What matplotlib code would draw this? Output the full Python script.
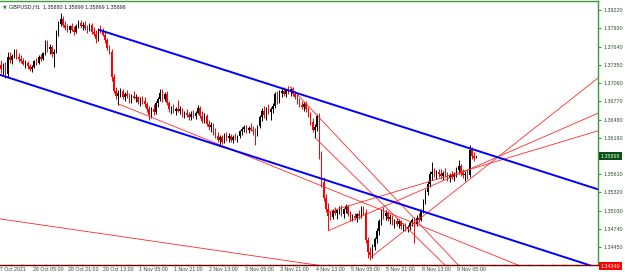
import numpy as np
import matplotlib
matplotlib.use('Agg')
import matplotlib.pyplot as plt
from matplotlib.transforms import blended_transform_factory, offset_copy

plt.rcParams['font.family'] = ['Liberation Sans', 'DejaVu Sans']

# GBPUSD H1, bar 0 = 27 Oct 14:00
bar_open = [
    1.3735, 1.3728, 1.3735, 1.3720, 1.3748, 1.3742, 1.3749, 1.3756, 1.3747, 1.3744,
    1.3741, 1.3737, 1.3738, 1.3733, 1.3728, 1.3732, 1.3741, 1.3738, 1.3747, 1.3744,
    1.3753, 1.3770, 1.3760, 1.3764, 1.3752, 1.3756, 1.3786, 1.3800, 1.3808, 1.3798,
    1.3794, 1.3790, 1.3796, 1.3791, 1.3787, 1.3797, 1.3802, 1.3797, 1.3799, 1.3794,
    1.3792, 1.3798, 1.3787, 1.3784, 1.3776, 1.3790, 1.3788, 1.3783, 1.3774, 1.3762,
    1.3756, 1.3716, 1.3694, 1.3686, 1.3690, 1.3693, 1.3684, 1.3689, 1.3685, 1.3679,
    1.3686, 1.3682, 1.3684, 1.3676, 1.3680, 1.3677, 1.3672, 1.3664, 1.3655, 1.3665,
    1.3660, 1.3675, 1.3681, 1.3690, 1.3680, 1.3688, 1.3674, 1.3664, 1.3667, 1.3661,
    1.3665, 1.3662, 1.3664, 1.3656, 1.3658, 1.3655, 1.3652, 1.3657, 1.3654, 1.3659,
    1.3667, 1.3653, 1.3646, 1.3654, 1.3641, 1.3636, 1.3639, 1.3627, 1.3622, 1.3616,
    1.3620, 1.3613, 1.3623, 1.3618, 1.3621, 1.3616, 1.3620, 1.3618, 1.3622, 1.3629,
    1.3633, 1.3636, 1.3631, 1.3635, 1.3632, 1.3629, 1.3626, 1.3637, 1.3652, 1.3662,
    1.3655, 1.3665, 1.3660, 1.3664, 1.3670, 1.3688, 1.3678, 1.3690, 1.3694, 1.3689,
    1.3695, 1.3692, 1.3697, 1.3689, 1.3683, 1.3676, 1.3671, 1.3668, 1.3673, 1.3664,
    1.3656, 1.3644, 1.3632, 1.3636, 1.3653, 1.3592, 1.3548, 1.3523, 1.3506, 1.3495,
    1.3493, 1.3503, 1.3499, 1.3504, 1.3507, 1.3498, 1.3505, 1.3510, 1.3497, 1.3491,
    1.3495, 1.3492, 1.3497, 1.3494, 1.3506, 1.3500, 1.3456, 1.3437, 1.3433, 1.3446,
    1.3458, 1.3470, 1.3486, 1.3500, 1.3494, 1.3499, 1.3490, 1.3493, 1.3484, 1.3487,
    1.3482, 1.3486, 1.3478, 1.3480, 1.3474, 1.3477, 1.3483, 1.3488, 1.3482, 1.3492,
    1.3489, 1.3503, 1.3518, 1.3533, 1.3546, 1.3561, 1.3565, 1.3560, 1.3565, 1.3561,
    1.3558, 1.3563, 1.3559, 1.3555, 1.3560, 1.3557, 1.3562, 1.3568, 1.3574, 1.3563,
    1.3559, 1.3562, 1.3560, 1.3600, 1.3590, 1.35880,
]
bar_high = [
    1.3742, 1.3738, 1.3740, 1.3755, 1.3756, 1.3752, 1.3760, 1.3760, 1.3753, 1.3750,
    1.3746, 1.3742, 1.3741, 1.3737, 1.3735, 1.3743, 1.3746, 1.3750, 1.3752, 1.3756,
    1.3775, 1.3774, 1.3768, 1.3767, 1.3760, 1.3790, 1.3805, 1.3818, 1.3812, 1.3805,
    1.3800, 1.3798, 1.3801, 1.3797, 1.3800, 1.3806, 1.3806, 1.3803, 1.3804, 1.3798,
    1.3801, 1.3802, 1.3795, 1.3790, 1.3794, 1.3799, 1.3793, 1.3787, 1.3778, 1.3766,
    1.3760, 1.3720, 1.3700, 1.3695, 1.3698, 1.3697, 1.3692, 1.3695, 1.3690, 1.3688,
    1.3693, 1.3689, 1.3686, 1.3683, 1.3686, 1.3684, 1.3676, 1.3670, 1.3668, 1.3673,
    1.3678, 1.3684, 1.3696, 1.3697, 1.3692, 1.3693, 1.3678, 1.3670, 1.3672, 1.3668,
    1.3679, 1.3669, 1.3667, 1.3662, 1.3664, 1.3660, 1.3661, 1.3663, 1.3662, 1.3671,
    1.3670, 1.3662, 1.3658, 1.3657, 1.3648, 1.3644, 1.3642, 1.3634, 1.3628, 1.3624,
    1.3624, 1.3626, 1.3628, 1.3626, 1.3625, 1.3623, 1.3626, 1.3624, 1.3632, 1.3636,
    1.3640, 1.3640, 1.3638, 1.3642, 1.3637, 1.3634, 1.3640, 1.3655, 1.3666, 1.3669,
    1.3668, 1.3672, 1.3668, 1.3674, 1.3692, 1.3694, 1.3695, 1.3698, 1.3699, 1.3697,
    1.3701, 1.3700, 1.3700, 1.3694, 1.3688, 1.3682, 1.3677, 1.3676, 1.3678, 1.3668,
    1.3660, 1.3650, 1.3641, 1.3656, 1.3658, 1.3598, 1.3556, 1.3530, 1.3515, 1.3502,
    1.3506, 1.3509, 1.3506, 1.3511, 1.3512, 1.3508, 1.3514, 1.3512, 1.3502, 1.3498,
    1.3500, 1.3499, 1.3504, 1.3510, 1.3511, 1.3505, 1.3462, 1.3445, 1.3450, 1.3462,
    1.3476, 1.3490, 1.3505, 1.3509, 1.3504, 1.3503, 1.3497, 1.3496, 1.3490, 1.3491,
    1.3490, 1.3489, 1.3484, 1.3483, 1.3481, 1.3486, 1.3492, 1.3493, 1.3496, 1.3500,
    1.3506, 1.3522, 1.3537, 1.3550, 1.3566, 1.3580, 1.3571, 1.3568, 1.3570, 1.3569,
    1.3566, 1.3571, 1.3564, 1.3563, 1.3566, 1.3564, 1.3572, 1.3583, 1.3578, 1.3570,
    1.3566, 1.3568, 1.3608, 1.3604, 1.3596, 1.35899,
]
bar_low = [
    1.3722, 1.3718, 1.3714, 1.3716, 1.3738, 1.3736, 1.3745, 1.3744, 1.3740, 1.3738,
    1.3734, 1.3730, 1.3729, 1.3725, 1.3724, 1.3730, 1.3735, 1.3736, 1.3741, 1.3742,
    1.3750, 1.3756, 1.3752, 1.3748, 1.3731, 1.3754, 1.3780, 1.3796, 1.3795, 1.3790,
    1.3787, 1.3785, 1.3788, 1.3783, 1.3785, 1.3793, 1.3794, 1.3790, 1.3791, 1.3786,
    1.3789, 1.3784, 1.3781, 1.3769, 1.3773, 1.3785, 1.3780, 1.3770, 1.3758, 1.3752,
    1.3710, 1.3690, 1.3680, 1.3671, 1.3683, 1.3680, 1.3678, 1.3682, 1.3674, 1.3675,
    1.3680, 1.3676, 1.3672, 1.3670, 1.3673, 1.3668, 1.3660, 1.3648, 1.3650, 1.3655,
    1.3657, 1.3668, 1.3678, 1.3676, 1.3677, 1.3671, 1.3660, 1.3656, 1.3658, 1.3655,
    1.3660, 1.3656, 1.3652, 1.3650, 1.3652, 1.3648, 1.3647, 1.3651, 1.3649, 1.3656,
    1.3650, 1.3642, 1.3643, 1.3638, 1.3632, 1.3628, 1.3624, 1.3618, 1.3612, 1.3607,
    1.3609, 1.3610, 1.3614, 1.3613, 1.3612, 1.3611, 1.3615, 1.3612, 1.3618, 1.3624,
    1.3628, 1.3627, 1.3626, 1.3629, 1.3624, 1.3607, 1.3622, 1.3634, 1.3645, 1.3650,
    1.3648, 1.3656, 1.3648, 1.3658, 1.3666, 1.3672, 1.3674, 1.3683, 1.3686, 1.3684,
    1.3688, 1.3686, 1.3686, 1.3680, 1.3672, 1.3668, 1.3664, 1.3662, 1.3660, 1.3652,
    1.3640, 1.3628, 1.3619, 1.3630, 1.3585, 1.3540, 1.3518, 1.3501, 1.3472, 1.3488,
    1.3490, 1.3496, 1.3490, 1.3498, 1.3495, 1.3492, 1.3500, 1.3494, 1.3487, 1.3486,
    1.3488, 1.3485, 1.3490, 1.3491, 1.3496, 1.3451, 1.3428, 1.3425, 1.3428, 1.3440,
    1.3452, 1.3465, 1.3480, 1.3490, 1.3488, 1.3486, 1.3482, 1.3480, 1.3476, 1.3478,
    1.3476, 1.3474, 1.3471, 1.3470, 1.3469, 1.3473, 1.3478, 1.3452, 1.3478, 1.3485,
    1.3486, 1.3500, 1.3514, 1.3528, 1.3541, 1.3552, 1.3556, 1.3554, 1.3557, 1.3553,
    1.3552, 1.3556, 1.3550, 1.3549, 1.3553, 1.3550, 1.3556, 1.3562, 1.3558, 1.3555,
    1.3550, 1.3554, 1.3557, 1.3585, 1.3582, 1.35869,
]
bar_close = [
    1.3728, 1.3735, 1.3720, 1.3748, 1.3742, 1.3749, 1.3756, 1.3747, 1.3744, 1.3741,
    1.3737, 1.3738, 1.3733, 1.3728, 1.3732, 1.3741, 1.3738, 1.3747, 1.3744, 1.3753,
    1.3770, 1.3760, 1.3764, 1.3752, 1.3756, 1.3786, 1.3800, 1.3808, 1.3798, 1.3794,
    1.3790, 1.3796, 1.3791, 1.3787, 1.3797, 1.3802, 1.3797, 1.3799, 1.3794, 1.3792,
    1.3798, 1.3787, 1.3784, 1.3776, 1.3790, 1.3788, 1.3783, 1.3774, 1.3762, 1.3756,
    1.3716, 1.3694, 1.3686, 1.3690, 1.3693, 1.3684, 1.3689, 1.3685, 1.3679, 1.3686,
    1.3682, 1.3684, 1.3676, 1.3680, 1.3677, 1.3672, 1.3664, 1.3655, 1.3665, 1.3660,
    1.3675, 1.3681, 1.3690, 1.3680, 1.3688, 1.3674, 1.3664, 1.3667, 1.3661, 1.3665,
    1.3662, 1.3664, 1.3656, 1.3658, 1.3655, 1.3652, 1.3657, 1.3654, 1.3659, 1.3667,
    1.3653, 1.3646, 1.3654, 1.3641, 1.3636, 1.3639, 1.3627, 1.3622, 1.3616, 1.3620,
    1.3613, 1.3623, 1.3618, 1.3621, 1.3616, 1.3620, 1.3618, 1.3622, 1.3629, 1.3633,
    1.3636, 1.3631, 1.3635, 1.3632, 1.3629, 1.3626, 1.3637, 1.3652, 1.3662, 1.3655,
    1.3665, 1.3660, 1.3664, 1.3670, 1.3688, 1.3678, 1.3690, 1.3694, 1.3689, 1.3695,
    1.3692, 1.3697, 1.3689, 1.3683, 1.3676, 1.3671, 1.3668, 1.3673, 1.3664, 1.3656,
    1.3644, 1.3632, 1.3636, 1.3653, 1.3592, 1.3548, 1.3523, 1.3506, 1.3495, 1.3493,
    1.3503, 1.3499, 1.3504, 1.3507, 1.3498, 1.3505, 1.3510, 1.3497, 1.3491, 1.3495,
    1.3492, 1.3497, 1.3494, 1.3506, 1.3500, 1.3456, 1.3437, 1.3433, 1.3446, 1.3458,
    1.3470, 1.3486, 1.3500, 1.3494, 1.3499, 1.3490, 1.3493, 1.3484, 1.3487, 1.3482,
    1.3486, 1.3478, 1.3480, 1.3474, 1.3477, 1.3483, 1.3488, 1.3482, 1.3492, 1.3489,
    1.3503, 1.3518, 1.3533, 1.3546, 1.3561, 1.3565, 1.3560, 1.3565, 1.3561, 1.3558,
    1.3563, 1.3559, 1.3555, 1.3560, 1.3557, 1.3562, 1.3568, 1.3574, 1.3563, 1.3559,
    1.3562, 1.3560, 1.3600, 1.3590, 1.3587, 1.35898,
]

# time axis labels (bar index of each label)
time_labels = ['27 Oct 2021', '28 Oct 05:00', '28 Oct 21:00', '29 Oct 13:00', '1 Nov 05:00',
               '1 Nov 21:00', '2 Nov 13:00', '3 Nov 05:00', '3 Nov 21:00', '4 Nov 13:00',
               '5 Nov 05:00', '5 Nov 21:00', '8 Nov 13:00', '9 Nov 05:00']
time_label_bars = [-1, 15, 31, 47, 63, 79, 95, 111, 127, 143, 159, 175, 191, 207]

price_ticks = [1.34450, 1.34740, 1.35030, 1.35320, 1.35610, 1.36190, 1.36480,
               1.36770, 1.37060, 1.37350, 1.37640, 1.37930, 1.38220]

# trendlines: (bar, price) -> (bar, price)
blue_lines = [((44.8, 1.3790), (270.1, 1.3537)),
              ((-0.45, 1.3719), (270.1, 1.3412))]
red_lines = [((-0.45, 1.3490), (150.0, 1.3413)),
             ((52.9, 1.3673), (240.0, 1.3408)),
             ((130.8, 1.3700), (210.0, 1.3405)),
             ((142.1, 1.3619), (210.0, 1.3385)),
             ((167.0, 1.3428), (270.1, 1.3714)),
             ((148.0, 1.3471), (270.1, 1.3658)),
             ((148.0, 1.3501), (270.1, 1.3630))]

last_price = 1.35898
hline_price_label = '1.34340'
title = 'GBPUSD,H1  1.35880 1.35899 1.35869 1.35898'

green = '#3c9a3c'
label_col = '#2f4a2f'

fig = plt.figure(figsize=(6.25, 2.76), dpi=100)
ax = fig.add_axes([0, 11 / 276, 598 / 625, 264 / 276])

o = np.array(bar_open)
h = np.array(bar_high)
l = np.array(bar_low)
c = np.array(bar_close)
idx = np.arange(len(c))
up = c >= o
cols = np.where(up, 'black', '#ff0000')

ax.vlines(idx, l, h, colors=cols, linewidth=0.7)
ax.bar(idx, np.maximum(np.abs(c - o), 0.00004), bottom=np.minimum(o, c),
       width=0.6, color=cols, linewidth=0)

for (x0, p0), (x1, p1) in red_lines:
    ax.plot([x0, x1], [p0, p1], color='#ff2a2a', linewidth=0.6)
for (x0, p0), (x1, p1) in blue_lines:
    ax.plot([x0, x1], [p0, p1], color='#0000ff', linewidth=1.4)

ax.set_xlim(-0.45, 270.1)
ax.set_ylim(1.34167, 1.38364)

for s in ['top', 'right']:
    ax.spines[s].set_color(green)
    ax.spines[s].set_linewidth(1.0)
ax.spines['left'].set_visible(False)
ax.spines['bottom'].set_color('#7a0000')
ax.spines['bottom'].set_linewidth(1.0)

ax.yaxis.tick_right()
ax.set_yticks(price_ticks)
ax.set_yticklabels(['%.5f' % p for p in price_ticks])
ax.tick_params(axis='y', direction='out', length=2.5, width=0.8, color=green,
               labelsize=3.9, labelcolor=label_col, pad=1.2)
ax.set_xticks([])

# small green dashes along the time scale
xb = blended_transform_factory(ax.transData, ax.transAxes)
for k in np.arange(-1, 270, 16 / 3):
    ax.plot([k - 0.6, k + 0.6], [0, 0], transform=xb, color='#6fbf6f',
            linewidth=1.0, clip_on=False, solid_capstyle='butt')

tr = offset_copy(xb, fig=fig, x=-1.5, y=-2, units='dots')
for b, lab in zip(time_label_bars, time_labels):
    ax.text(b, 0, lab, transform=tr, ha='left', va='top', fontsize=3.8,
            color=label_col, clip_on=False)

# price boxes on the right scale
yb = blended_transform_factory(ax.transAxes, ax.transData)
ax.text(1.004, last_price, '%.5f' % last_price, transform=yb, ha='left', va='center',
        fontsize=3.9, color='#d8ffd8',
        bbox=dict(boxstyle='square,pad=0.3', fc='#0b4f14', ec='none'), clip_on=False)
ax.text(1.004, -0.004, hline_price_label, transform=ax.transAxes, ha='left', va='center',
        fontsize=3.9, color='white',
        bbox=dict(boxstyle='square,pad=0.3', fc='#ff0000', ec='none'), clip_on=False)

fig.text(3 / 625, 1 - 7 / 276, '\u25bc', fontsize=3.5, color='#1e8c1e', va='center',
         family=['DejaVu Sans'])
fig.text(9 / 625, 1 - 7 / 276, title, fontsize=3.9, color='#222222', va='center')

fig.savefig('out.png', dpi=100)
